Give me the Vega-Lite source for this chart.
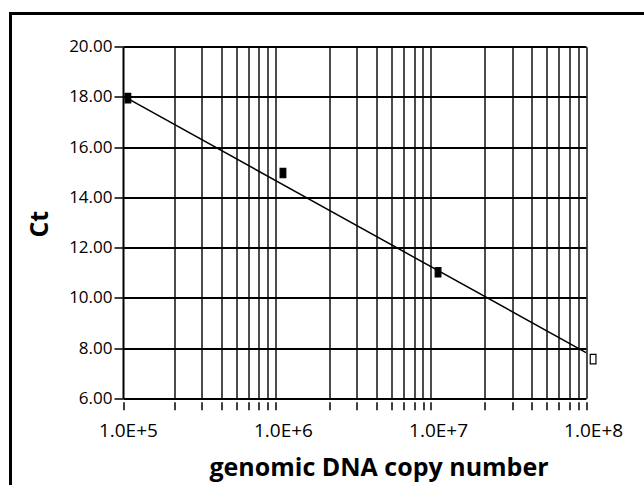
{
  "$schema": "https://vega.github.io/schema/vega-lite/v6.json",
  "width": 700,
  "height": 500,
  "padding": {"left": 10.5, "top": 13.5, "right": 0, "bottom": 0},
  "background": "white",
  "config": {
    "view": {"stroke": "black", "strokeWidth": 3},
    "font": "Open Sans"
  },
  "datasets": {
    "points": [
      {"copies": 100000, "ct": 17.95, "standard": "known"},
      {"copies": 1000000, "ct": 14.97, "standard": "known"},
      {"copies": 10000000, "ct": 11.02, "standard": "known"},
      {"copies": 100000000, "ct": 7.56, "standard": "unknown"}
    ],
    "fit": [
      {"copies": 100000, "ct": 17.93},
      {"copies": 90000000, "ct": 7.82}
    ]
  },
  "resolve": {"scale": {"x": "independent"}, "axis": {"x": "independent"}},
  "layer": [
    {
      "data": {"name": "fit"},
      "mark": {"type": "line", "color": "black", "strokeWidth": 1.5},
      "encoding": {
        "x": {
          "field": "copies", "type": "quantitative",
          "scale": {"type": "log", "domain": [93000, 90000000], "range": [112.5, 575.5], "nice": false},
          "axis": {
            "orient": "top", "offset": 0,
            "values": [200000, 300000, 400000, 500000, 600000, 700000, 800000, 900000,
                       2000000, 3000000, 4000000, 5000000, 6000000, 7000000, 8000000, 9000000,
                       20000000, 30000000, 40000000, 50000000, 60000000, 70000000, 80000000, 90000000],
            "grid": true, "gridColor": "black", "gridWidth": 1.4, "gridOpacity": 1,
            "ticks": false, "labels": false, "domain": false, "title": null
          }
        },
        "y": {
          "field": "ct", "type": "quantitative",
          "scale": {"domain": [6, 20], "range": [384.8, 33.2], "zero": false, "nice": false},
          "axis": {
            "orient": "left", "offset": -112.5,
            "values": [6, 8, 10, 12, 14, 16, 18, 20], "format": ".2f",
            "grid": true, "gridColor": "black", "gridWidth": 1.8, "gridOpacity": 1,
            "domain": true, "domainColor": "black", "domainWidth": 2,
            "ticks": true, "tickColor": "black", "tickWidth": 1.5, "tickSize": 9,
            "labelFont": "Open Sans", "labelFontSize": 17, "labelColor": "black", "labelPadding": 2,
            "title": "Ct", "titleFont": "Open Sans", "titleFontSize": 25, "titleFontWeight": "bold", "titleColor": "black",
            "titleX": -75.3, "titleY": 210.2, "titleBaseline": "alphabetic", "titleAlign": "center", "titleAngle": 270
          }
        }
      }
    },
    {
      "data": {"name": "points"},
      "mark": {"type": "point", "shape": "M-0.6,-1H0.6V1H-0.6Z", "size": 90, "filled": true, "stroke": "black", "strokeWidth": 1.2, "opacity": 1},
      "encoding": {
        "x": {
          "field": "copies", "type": "quantitative",
          "scale": {"type": "log", "domain": [93000, 100000000], "range": [112.5, 582.6], "nice": false},
          "axis": {
            "orient": "bottom", "offset": -111.8,
            "values": [93000, 100000, 200000, 300000, 400000, 500000, 600000, 700000, 800000, 900000,
                       1000000, 2000000, 3000000, 4000000, 5000000, 6000000, 7000000, 8000000, 9000000,
                       10000000, 20000000, 30000000, 40000000, 50000000, 60000000, 70000000, 80000000, 90000000, 100000000],
            "grid": false, "domain": false,
            "ticks": true, "tickColor": "black", "tickWidth": 1.5, "tickSize": 8,
            "tickOpacity": {"condition": {"test": "indexof([100000, 1000000, 10000000, 100000000], datum.value) >= 0", "value": 0}, "value": 1},
            "labelExpr": "indexof([100000, 1000000, 10000000, 100000000], datum.value) >= 0 ? replace(format(datum.value, '.1e'), 'e', 'E') : ''",
            "labelFont": "Open Sans", "labelFontSize": 19, "labelColor": "black",
            "labelBaseline": "alphabetic", "labelPadding": 27,
            "labelOverlap": false, "labelFlush": false, "labelBound": false,
            "title": "genomic DNA copy number", "titleFont": "Open Sans", "titleFontSize": 25, "titleFontWeight": "bold", "titleColor": "black",
            "titleX": 368, "titleY": 73.3, "titleBaseline": "alphabetic", "titleAlign": "center"
          }
        },
        "y": {
          "field": "ct", "type": "quantitative",
          "scale": {"domain": [6, 20], "range": [384.8, 33.2], "zero": false, "nice": false},
          "axis": {
            "orient": "left", "offset": -112.5,
            "values": [6, 8, 10, 12, 14, 16, 18, 20], "format": ".2f",
            "grid": true, "gridColor": "black", "gridWidth": 1.8, "gridOpacity": 1,
            "domain": true, "domainColor": "black", "domainWidth": 2,
            "ticks": true, "tickColor": "black", "tickWidth": 1.5, "tickSize": 9,
            "labelFont": "Open Sans", "labelFontSize": 17, "labelColor": "black", "labelPadding": 2,
            "title": "Ct", "titleFont": "Open Sans", "titleFontSize": 25, "titleFontWeight": "bold", "titleColor": "black",
            "titleX": -75.3, "titleY": 210.2, "titleBaseline": "alphabetic", "titleAlign": "center", "titleAngle": 270
          }
        },
        "fill": {
          "condition": {"test": "datum.standard == 'unknown'", "value": "white"},
          "value": "black"
        }
      }
    }
  ]
}
